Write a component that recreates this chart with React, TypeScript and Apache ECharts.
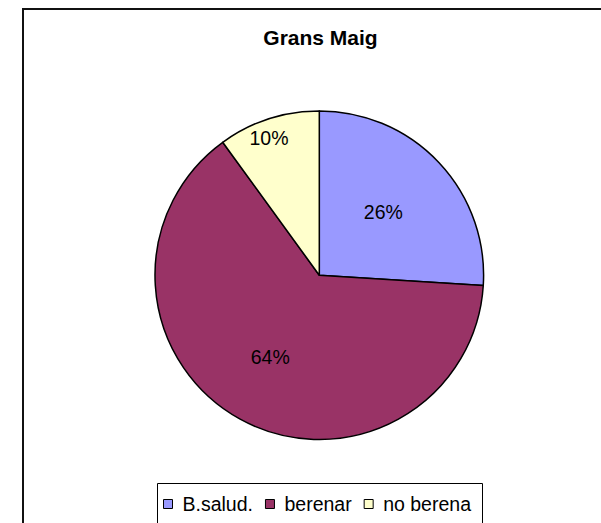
import React, { useEffect, useRef } from "react";
import * as echarts from "echarts";

const titleText = "Grans Maig";
const categories = ["B.salud.", "berenar", "no berena"];
const values = [26, 64, 10];
const colors = ["#9999FF", "#993366", "#FFFFCC"];
// label nudges relative to ECharts' inside position (px)
const labelOffsets = [
  [2, -5],
  [-8, 7],
  [-24, -56],
];

const FONT = "'Liberation Sans', Arial, sans-serif";

export default function App() {
  const ref = useRef<HTMLDivElement>(null);
  useEffect(() => {
    document.body.style.margin = "0";
    if (!ref.current) return;
    const chart = echarts.init(ref.current, undefined, { renderer: "svg" });
    chart.setOption({
      animation: false,
      backgroundColor: "#ffffff",
      title: {
        text: titleText,
        left: 320.5,
        top: 27,
        padding: 0,
        textAlign: "center",
        textStyle: { fontFamily: FONT, fontSize: 21, fontWeight: "bold", color: "#000" },
      },
      graphic: [
        {
          type: "rect",
          shape: { x: 23, y: 9, width: 620, height: 560 },
          style: { fill: "none", stroke: "#111", lineWidth: 2 },
          silent: true,
        },
        {
          type: "rect",
          shape: { x: 157.5, y: 483.5, width: 325, height: 40 },
          style: { fill: "none", stroke: "#000", lineWidth: 1 },
          silent: true,
        },
      ],
      legend: {
        left: 163,
        top: 494,
        padding: 0,
        itemWidth: 9,
        itemHeight: 9,
        itemGap: 12,
        icon: "rect",
        itemStyle: { borderColor: "#000", borderWidth: 1 },
        textStyle: { fontFamily: FONT, fontSize: 19.5, color: "#000", padding: [0, 0, 0, 5] },
        data: categories,
      },
      series: [
        {
          type: "pie",
          center: [319.3, 275.2],
          radius: 164.3,
          startAngle: 90,
          clockwise: true,
          avoidLabelOverlap: false,
          itemStyle: { borderColor: "#000", borderWidth: 1.5 },
          label: {
            show: true,
            position: "inside",
            formatter: "{d}%",
            fontFamily: FONT,
            fontSize: 19.5,
            color: "#000",
          },
          labelLine: { show: false },
          labelLayout: (p: any) => ({
            dx: labelOffsets[p.dataIndex][0],
            dy: labelOffsets[p.dataIndex][1],
          }),
          emphasis: { disabled: true },
          data: categories.map((name, i) => ({
            name,
            value: values[i],
            itemStyle: { color: colors[i] },
          })),
        },
      ],
    });
    return () => chart.dispose();
  }, []);
  return <div ref={ref} style={{ width: 601, height: 523 }} />;
}
